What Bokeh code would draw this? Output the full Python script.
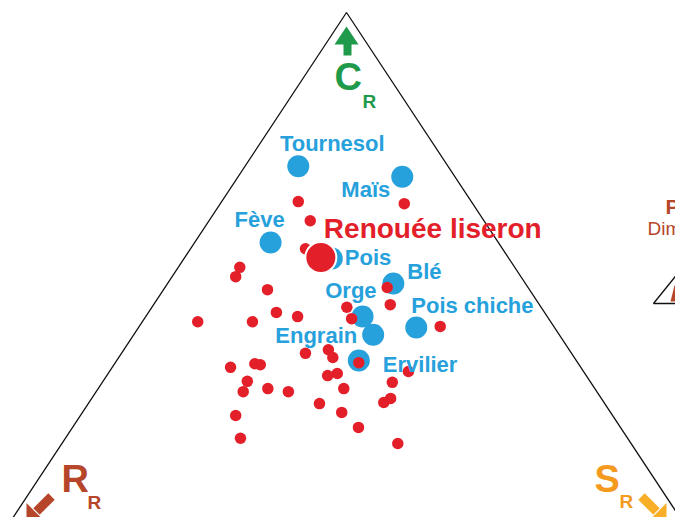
import numpy as np
from bokeh.plotting import figure
from bokeh.models import Range1d
from bokeh.embed import file_html
from bokeh.resources import INLINE
from bokeh.core.properties import value

# ---------------- data : CSR compositions (%) ----------------
# C = compétitrice, S = tolérante au stress, R = rudérale
weed_C = [63.5, 63.1, 59.8, 54.4, 50.8, 49.0, 46.5, 46.9, 43.6, 43.1,
          40.9, 40.3, 40.3, 42.1, 41.3, 39.4, 34.2, 34.9, 33.4, 32.4,
          31.5, 32.2, 32.0, 30.7, 29.9, 30.3, 28.6, 28.8, 26.8, 27.4,
          26.8, 27.4, 24.5, 22.8, 24.7, 25.5, 22.2, 19.9, 17.8, 16.8]
weed_S = [11.2, 26.9, 14.8, 16.8, 9.0, 9.3, 15.2, 32.5, 34.6, 28.5,
          30.3, 8.1, 16.1, 18.7, 22.2, 44.0, 26.9, 29.9, 31.3, 35.6,
          17.3, 20.5, 21.4, 43.7, 32.3, 33.5, 42.4, 21.1, 21.5, 24.8,
          28.1, 35.9, 33.8, 37.9, 43.1, 43.7, 22.7, 41.8, 25.6, 49.1]
weed_R = [round(100 - c - s, 1) for c, s in zip(weed_C, weed_S)]

crop_names = ["Tournesol", "Maïs", "Fève", "Pois", "Blé", "Orge",
              "Engrain", "Pois chiche", "Ervilier"]
crop_C = [70.3, 68.3, 55.6, 52.5, 47.7, 41.3, 37.8, 39.2, 32.8]
crop_S = [7.8, 24.0, 11.1, 21.6, 33.0, 31.7, 35.0, 40.6, 35.4]
crop_R = [21.9, 7.7, 33.3, 25.9, 19.3, 27.0, 27.2, 20.2, 31.8]

focus_name = "Renouée liseron"
focus_C = [52.7]
focus_S = [19.9]
focus_R = [27.4]

axis_letters = ["C", "R", "S"]
axis_sub = "R"

# ---------------- styles ----------------
BLUE = "#27a1dc"
RED = "#e3202a"
GREEN = "#1f9a4b"
BROWN = "#b5462a"
ORANGE = "#f49a1e"
ORANGE_ARROW = "#f9ae27"
FONT = value("Liberation Sans")
SHIFT = 0.37  # baseline correction (fraction of font size)


def tern(C, S, R):
    C = np.asarray(C, dtype=float)
    S = np.asarray(S, dtype=float)
    R = np.asarray(R, dtype=float)
    tot = C + S + R
    c, s = C / tot, S / tot
    return s + c / 2.0, c


# page geometry helper for decorations (picture px -> data)
def px(x, y):
    return (x - 4) / 684.0, (530 - y) / 518.0


x0, y1 = px(0, 0)
x1, y0 = px(675, 517)

p = figure(width=675, height=517, output_backend="svg", toolbar_location=None,
           x_range=Range1d(x0, x1), y_range=Range1d(y0, y1),
           x_axis_type=None, y_axis_type=None, min_border=0)
p.grid.visible = False
p.outline_line_color = None
p.background_fill_color = "white"
p.border_fill_color = "white"

# triangle frame (corners C, R, S)
tx, ty = tern([100, 0, 0, 100], [0, 0, 100, 0], [0, 100, 0, 0])
p.line(tx, ty, line_color="#111111", line_width=1.3)

# crops
cx, cy = tern(crop_C, crop_S, crop_R)
p.scatter(cx, cy, size=22, fill_color=BLUE, line_color=None)

# weeds
wx, wy = tern(weed_C, weed_S, weed_R)
p.scatter(wx, wy, size=11.5, fill_color=RED, line_color=None)

# focus species
fx, fy = tern(focus_C, focus_S, focus_R)
p.scatter(fx, fy, size=31, fill_color=RED, line_color="white", line_width=2)

# crop labels: (align, dx, dy) baseline offsets in pixels from the point
lab_layout = {
    "Tournesol": ("center", 34, -15),
    "Maïs": ("right", -12, 21),
    "Fève": ("center", -11, -15),
    "Pois": ("left", 13, 7),
    "Blé": ("left", 14, -4),
    "Orge": ("right", 14, -18),
    "Engrain": ("right", -16, 9),
    "Pois chiche": ("left", -5, -14),
    "Ervilier": ("left", 24, 12),
}
for name, x, y in zip(crop_names, cx, cy):
    al, dx, dy = lab_layout[name]
    p.text([x], [y], text=[name], x_offset=dx, y_offset=dy - SHIFT * 22,
           text_align=al, text_baseline="alphabetic",
           text_font=FONT, text_font_style="bold",
           text_font_size="22px", text_color=BLUE)

p.text(fx, fy, text=[focus_name], x_offset=3, y_offset=-19 - SHIFT * 28,
       text_align="left", text_baseline="alphabetic",
       text_font=FONT, text_font_style="bold",
       text_font_size="28px", text_color=RED)


def label(xp, yp, txt, size, color, bold=True):
    a, b = px(xp, yp - SHIFT * size)
    p.text([a], [b], text=[txt], text_align="left", text_baseline="alphabetic",
           text_font=FONT, text_font_style="bold" if bold else "normal",
           text_font_size=f"{size}px", text_color=color)


# axis labels
def letter(xs, ys, big, sub, color, sxs, sys_):
    label(xs, ys, big, 38, color)
    label(sxs, sys_, sub, 19, color)


letter(334, 91, axis_letters[0], axis_sub, GREEN, 362, 108)
letter(61, 493, axis_letters[1], axis_sub, BROWN, 87, 509)
letter(594, 493, axis_letters[2], axis_sub, ORANGE, 619, 508)


def poly(pts, color):
    xs, ys = zip(*[px(a, b) for a, b in pts])
    p.patch(list(xs), list(ys), fill_color=color, line_color=None)


# green arrow (up)
poly([(343, 55), (351, 55), (351, 43), (343, 43)], GREEN)
poly([(334, 44), (358, 44), (346, 26)], GREEN)
# brown arrow (down-left)
poly([(39.2, 514.2), (54.2, 499.2), (47.8, 492.8), (32.8, 507.8)], BROWN)
poly([(26, 521), (26, 502.6), (44.4, 521)], BROWN)
# orange arrow (down-right)
poly([(659.2, 507.8), (644.2, 492.8), (637.8, 499.2), (652.8, 514.2)], ORANGE_ARROW)
poly([(666, 521), (666, 502.6), (647.6, 521)], ORANGE_ARROW)

# partial legend at right edge (cut by the picture's edge, as in the original)
label(665, 214, "P", 21, BROWN)
label(647, 235, "Dim", 19, BROWN, bold=False)
lx, ly = zip(*[px(678, 272), px(653, 303), px(678, 303)])
p.line(list(lx), list(ly), line_color="#111111", line_width=1.3)
poly([(670, 301), (674, 285), (678, 285), (678, 301)], BROWN)

open("out.html", "w").write(file_html(p, INLINE))
